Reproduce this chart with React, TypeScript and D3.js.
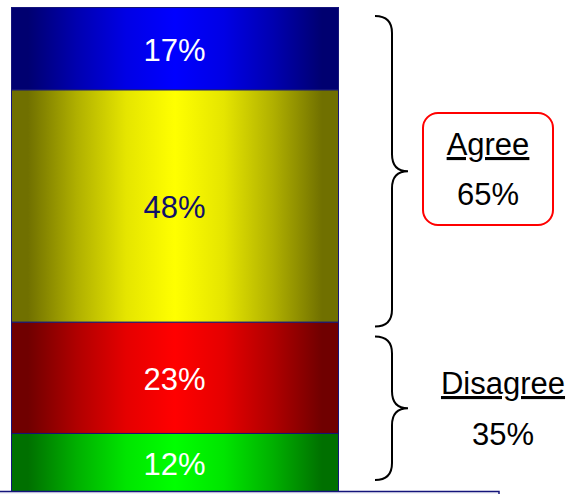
import React from "react";
import * as d3 from "d3";

// Segments from bottom to top
const segmentNames = ["Strongly disagree", "Disagree", "Agree", "Strongly agree"];
const segmentValues = [12, 23, 48, 17];
const segmentEdgeColors = ["#007000", "#700000", "#707000", "#000070"];
const segmentMidColors = ["#00ff00", "#ff0000", "#ffff00", "#0000ff"];
const segmentTextColors = ["#ffffff", "#ffffff", "#10106a", "#ffffff"];

const groupNames = ["Disagree", "Agree"];
const groupValues = [35, 65];

const W = 571;
const H = 494;
const FONT = "'Liberation Sans', Arial, sans-serif";

export default function App() {
  const y = d3.scaleLinear().domain([0, 100]).range([491, 7]);
  const x = d3.scaleBand().domain(["bar"]).range([11, 338]).padding(0);
  const bx = x("bar") as number;
  const bw = x.bandwidth();

  let acc = 0;
  const segs = segmentValues.map((v, i) => {
    const s = { i, v, y0: acc, y1: acc + v };
    acc += v;
    return s;
  });

  let gacc = 0;
  const groups = groupValues.map((v, i) => {
    const g = { i, v, y0: gacc, y1: gacc + v };
    gacc += v;
    return g;
  });

  const brace = (top: number, bottom: number) => {
    const x0 = 375, x1 = 392, x2 = 408, r = 17;
    const ym = (top + bottom) / 2;
    const p = d3.path();
    p.moveTo(x0, top);
    p.quadraticCurveTo(x1, top, x1, top + r);
    p.lineTo(x1, ym - r);
    p.quadraticCurveTo(x1, ym, x2, ym);
    p.quadraticCurveTo(x1, ym, x1, ym + r);
    p.lineTo(x1, bottom - r);
    p.quadraticCurveTo(x1, bottom, x0, bottom);
    return p.toString();
  };

  const disagree = groups[0];
  const agree = groups[1];
  const agreeTop = y(agree.y1) + 9;
  const agreeBot = y(agree.y0) + 5;
  const disTop = y(disagree.y1) + 15;
  const disBot = y(disagree.y0) - 11;

  const stops = [
    [0, 0],
    [0.05, 0],
    [0.2, 0.45],
    [0.35, 0.82],
    [0.5, 1],
    [0.65, 0.82],
    [0.8, 0.45],
    [0.95, 0],
    [1, 0],
  ];

  return (
    <svg width={W} height={H} style={{ position: "absolute", left: 0, top: 0, background: "#fff" }}>
      <defs>
        {segs.map((s) => {
          const interp = d3.interpolateRgb(segmentEdgeColors[s.i], segmentMidColors[s.i]);
          return (
            <linearGradient key={s.i} id={`g${s.i}`} x1="0" x2="1" y1="0" y2="0">
              {stops.map(([o, t], k) => (
                <stop key={k} offset={o} stopColor={interp(t)} />
              ))}
            </linearGradient>
          );
        })}
      </defs>
      {segs.map((s) => (
        <g key={s.i}>
          <rect
            x={bx + 0.5}
            y={y(s.y1) + 0.5}
            width={bw}
            height={y(s.y0) - y(s.y1)}
            fill={`url(#g${s.i})`}
            stroke="#14147a"
            strokeWidth={1}
          >
            <title>{segmentNames[s.i]}</title>
          </rect>
          <text
            x={bx + bw / 2}
            y={(y(s.y0) + y(s.y1)) / 2 + 13}
            textAnchor="middle"
            fontFamily={FONT}
            fontSize={31}
            fill={segmentTextColors[s.i]}
          >
            {`${s.v}%`}
          </text>
        </g>
      ))}
      <rect x={-1} y={491.5} width={500} height={20} fill="#f2f2f8" stroke="#14147a" strokeWidth={1.5} />
      <path d={brace(agreeTop, agreeBot)} fill="none" stroke="#000" strokeWidth={2} />
      <path d={brace(disTop, disBot)} fill="none" stroke="#000" strokeWidth={2} />
      <rect x={423} y={113} width={130} height={112} rx={15} ry={15} fill="#fff" stroke="#ff0000" strokeWidth={2} />
      <text x={488} y={155} textAnchor="middle" fontFamily={FONT} fontSize={31} fill="#000" textDecoration="underline">
        {groupNames[1]}
      </text>
      <text x={488} y={205} textAnchor="middle" fontFamily={FONT} fontSize={31} fill="#000">
        {`${agree.v}%`}
      </text>
      <text x={503} y={394} textAnchor="middle" fontFamily={FONT} fontSize={31} fill="#000" textDecoration="underline">
        {groupNames[0]}
      </text>
      <text x={503} y={445} textAnchor="middle" fontFamily={FONT} fontSize={31} fill="#000">
        {`${disagree.v}%`}
      </text>
    </svg>
  );
}
